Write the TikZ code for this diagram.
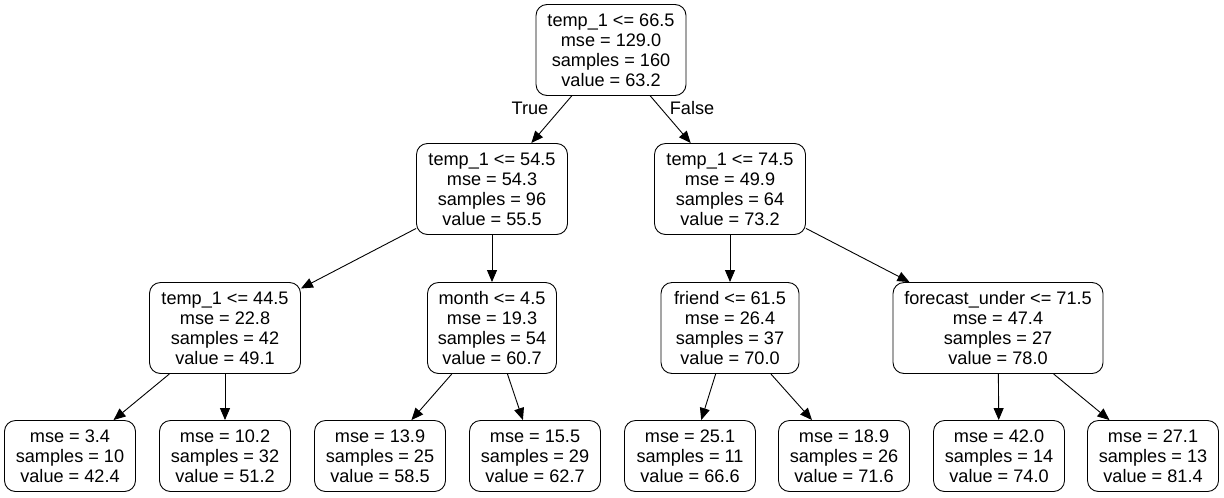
\documentclass[tikz,border=0pt]{standalone}
\usepackage{fontspec}
\setmainfont{Liberation Sans}
\usetikzlibrary{arrows.meta}
\newdimen\unitpx \unitpx=0.75bp

\begin{document}
\begin{tikzpicture}[x=0.75bp,y=-0.75bp,
  box/.style={draw,rounded corners=11\unitpx,align=center,inner sep=0pt,
    line width=0.9\unitpx,font=\fontsize{13.6bp}{15bp}\selectfont},
  split/.style={box,minimum height=91\unitpx},
  leaf/.style={box,minimum height=71\unitpx,minimum width=131\unitpx},
  arr/.style={-{Triangle[length=9bp,width=7.5bp]},line width=0.675bp}]
\useasboundingbox (0,0) rectangle (1224,497);

% splits
\node[split,minimum width=150\unitpx] (root) at (611,50) {temp\_1 <= 66.5\\mse = 129.0\\samples = 160\\value = 63.2};
\node[split,minimum width=151\unitpx] (l) at (492,189) {temp\_1 <= 54.5\\mse = 54.3\\samples = 96\\value = 55.5};
\node[split,minimum width=151\unitpx] (r) at (730,189) {temp\_1 <= 74.5\\mse = 49.9\\samples = 64\\value = 73.2};
\node[split,minimum width=151\unitpx] (ll) at (225,328) {temp\_1 <= 44.5\\mse = 22.8\\samples = 42\\value = 49.1};
\node[split,minimum width=129\unitpx] (lr) at (492,328) {month <= 4.5\\mse = 19.3\\samples = 54\\value = 60.7};
\node[split,minimum width=138\unitpx] (rl) at (730,328) {friend <= 61.5\\mse = 26.4\\samples = 37\\value = 70.0};
\node[split,minimum width=210\unitpx] (rr) at (998,328) {forecast\_under <= 71.5\\mse = 47.4\\samples = 27\\value = 78.0};

% leaves
\node[leaf] (lll) at (70,456) {mse = 3.4\\samples = 10\\value = 42.4};
\node[leaf] (llr) at (225,456) {mse = 10.2\\samples = 32\\value = 51.2};
\node[leaf] (lrl) at (380,456) {mse = 13.9\\samples = 25\\value = 58.5};
\node[leaf] (lrr) at (535,456) {mse = 15.5\\samples = 29\\value = 62.7};
\node[leaf] (rll) at (690,456) {mse = 25.1\\samples = 11\\value = 66.6};
\node[leaf] (rlr) at (844,456) {mse = 18.9\\samples = 26\\value = 71.6};
\node[leaf] (rrl) at (999,456) {mse = 42.0\\samples = 14\\value = 74.0};
\node[leaf] (rrr) at (1153,456) {mse = 27.1\\samples = 13\\value = 81.4};

% edges
\draw[arr] (root) -- (l);
\draw[arr] (root) -- (r);
\node[font=\fontsize{13.6bp}{15bp}\selectfont] (lblT) at (530,108) {True};
\node[font=\fontsize{13.6bp}{15bp}\selectfont] (lblF) at (692,108) {False};
\draw[arr] (l) -- (ll);
\draw[arr] (l) -- (lr);
\draw[arr] (r) -- (rl);
\draw[arr] (r) -- (rr);
\draw[arr] (ll) -- (lll);
\draw[arr] (ll) -- (llr);
\draw[arr] (lr) -- (lrl);
\draw[arr] (lr) -- (lrr);
\draw[arr] (rl) -- (rll);
\draw[arr] (rl) -- (rlr);
\draw[arr] (rr) -- (rrl);
\draw[arr] (rr) -- (rrr);
\end{tikzpicture}
\end{document}
